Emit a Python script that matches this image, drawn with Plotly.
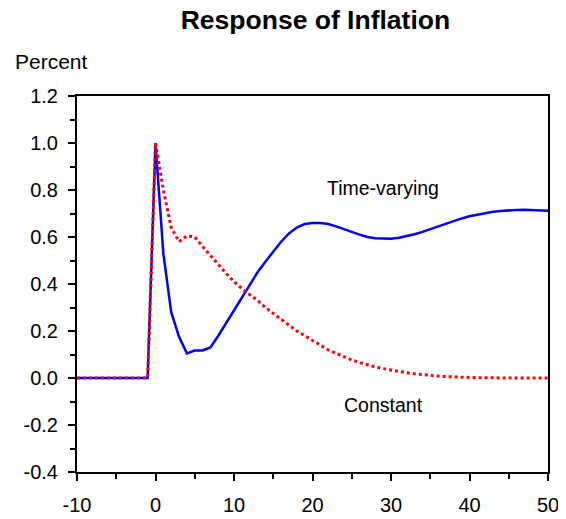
import plotly.graph_objects as go

# Horizon (quarters) and impulse responses
horizon = list(range(-10, 51))

time_varying = [0.0] * 10 + [
    1.0, 0.53, 0.28, 0.175, 0.105, 0.117, 0.117, 0.13, 0.18, 0.235,
    0.29, 0.345, 0.40, 0.45, 0.495, 0.54, 0.58, 0.615, 0.64, 0.655,
    0.66, 0.66, 0.655, 0.645, 0.635, 0.622, 0.61, 0.60, 0.595, 0.593,
    0.593, 0.597, 0.603, 0.612, 0.622, 0.634, 0.646, 0.658, 0.669, 0.679,
    0.688, 0.695, 0.702, 0.707, 0.711, 0.714, 0.715, 0.716, 0.715, 0.714,
    0.712,
]

constant = [0.0] * 10 + [
    1.0, 0.80, 0.64, 0.58, 0.605, 0.60, 0.56, 0.52, 0.48, 0.445,
    0.41, 0.38, 0.355, 0.33, 0.30, 0.275, 0.25, 0.225, 0.20, 0.18,
    0.16, 0.14, 0.12, 0.105, 0.09, 0.077, 0.066, 0.056, 0.047, 0.04,
    0.033, 0.027, 0.022, 0.018, 0.014, 0.011, 0.008, 0.006, 0.004, 0.003,
    0.002, 0.001, 0.001, 0.0, 0.0, 0.0, 0.0, 0.0, 0.0, 0.0,
    0.0,
]

x_ticks = [-10, 0, 10, 20, 30, 40, 50]
x_labels = ["-10", "0", "10", "20", "30", "40", "50"]
y_ticks = [-0.4, -0.2, 0.0, 0.2, 0.4, 0.6, 0.8, 1.0, 1.2]
y_labels = ["-0.4", "-0.2", "0.0", "0.2", "0.4", "0.6", "0.8", "1.0", "1.2"]

font = "Liberation Sans, Arial, sans-serif"

fig = go.Figure()

fig.add_trace(go.Scatter(
    x=horizon, y=time_varying, mode="lines",
    line=dict(color="#0000ff", width=2.5),
    name="Time-varying",
))
fig.add_trace(go.Scatter(
    x=horizon, y=constant, mode="lines",
    line=dict(color="#ff0000", width=3, dash="dot"),
    name="Constant",
))

axis_style = dict(
    showgrid=False, zeroline=False, automargin=False,
    showline=True, linecolor="black", linewidth=2, mirror=True,
    ticks="outside", ticklen=7, tickwidth=2, tickcolor="black",
    tickfont=dict(family=font, size=20, color="black"),
    minor=dict(ticks="outside", ticklen=5, tickwidth=2, tickcolor="black"),
)

fig.update_xaxes(
    range=[-10, 50], tickvals=x_ticks, ticktext=x_labels,
    minor_dtick=5, minor_tick0=0, ticklabelstandoff=7, **axis_style,
)
fig.update_yaxes(
    range=[-0.4, 1.2], tickvals=y_ticks, ticktext=y_labels,
    minor_dtick=0.1, minor_tick0=0, ticklabelstandoff=6, **axis_style,
)

fig.add_annotation(x=29, y=0.81, text="Time-varying", showarrow=False,
                   font=dict(family=font, size=19.5, color="black"))
fig.add_annotation(x=29, y=-0.114, text="Constant", showarrow=False,
                   font=dict(family=font, size=19.5, color="black"))
fig.add_annotation(xref="paper", yref="paper", x=-0.136, y=1.092,
                   xanchor="left", yanchor="middle", text="Percent",
                   showarrow=False, font=dict(family=font, size=21, color="black"))

# page body has an 8px margin, so the figure is sized to fit the window
fig.update_layout(
    width=558, height=511,
    margin=dict(l=69, r=18, t=88, b=47),
    paper_bgcolor="white", plot_bgcolor="white",
    showlegend=False,
    title=dict(text="<b>Response of Inflation</b>", x=0.551, xanchor="center",
               y=0.9765, yanchor="middle",
               font=dict(family=font, size=26.5, color="black")),
)

fig.write_html("out.html")
